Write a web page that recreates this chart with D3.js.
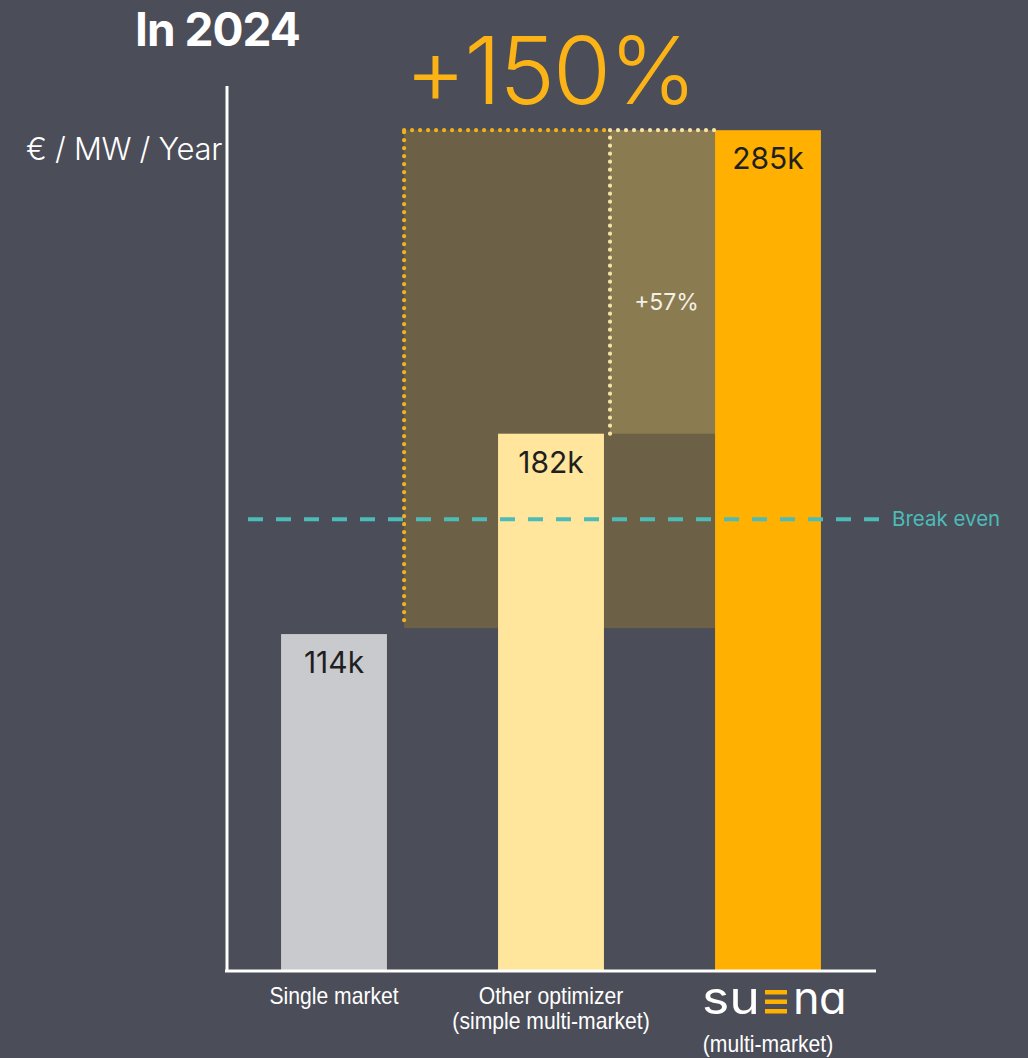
<!DOCTYPE html>
<html>
<head>
<meta charset="utf-8">
<script src="https://cdn.jsdelivr.net/npm/d3@7"></script>
<style>
  html, body { margin: 0; padding: 0; background: #4b4d58; }
  svg { display: block; }
</style>
</head>
<body>
<svg id="chart" width="1028" height="1058"></svg>
<script>
// data
const categories = ['Single market', 'Other optimizer', 'suena'];
const values = [114, 182, 285];
const valueLabels = ['114k', '182k', '285k'];
const categoryLines = [['Single market'], ['Other optimizer', '(simple multi-market)'], ['(multi-market)']];
const breakEven = 153;
const upliftTotal = '+150%';
const upliftOther = '+57%';
const upliftBase = 116; // bottom of the +150% box
const yDomain = [0, 300];

const colors = ['#c9cacd', '#ffe69c', '#ffb000'];

const svg = d3.select('#chart');

// scales
const xScale = d3.scaleBand()
    .domain(categories)
    .range([225.5, 876.5])
    .paddingInner(0.512)
    .paddingOuter(0.256);

const yScale = d3.scaleLinear()
    .domain(yDomain)
    .range([970, 86]);

const bw = xScale.bandwidth();
const step = xScale.step();

// shaded uplift boxes
const boxLeft = xScale('Other optimizer') - step * 0.433;
const boxRight = xScale('suena');
const innerLeft = xScale('Other optimizer') + bw + step * 0.028;

svg.append('rect')
    .attr('x', boxLeft)
    .attr('y', yScale(values[2]))
    .attr('width', boxRight - boxLeft)
    .attr('height', yScale(upliftBase) - yScale(values[2]))
    .attr('fill', '#6c6146');

svg.append('rect')
    .attr('x', innerLeft)
    .attr('y', yScale(values[2]))
    .attr('width', boxRight - innerLeft)
    .attr('height', yScale(values[1]) - yScale(values[2]))
    .attr('fill', '#8a7b50');

// bars
svg.selectAll('.bar')
    .data(categories)
    .enter()
    .append('rect')
        .attr('class', 'bar')
        .attr('x', d => xScale(d))
        .attr('y', (d, i) => yScale(values[i]))
        .attr('width', bw)
        .attr('height', (d, i) => yScale(0) - yScale(values[i]))
        .attr('fill', (d, i) => colors[i]);

// dotted outlines
const dotted = (x1, y1, x2, y2, color) => svg.append('line')
    .attr('x1', x1).attr('y1', y1).attr('x2', x2).attr('y2', y2)
    .attr('stroke', color)
    .attr('stroke-width', 4.2)
    .attr('stroke-linecap', 'round')
    .attr('stroke-dasharray', '0 8');

const topY = yScale(values[2]);
dotted(boxLeft, yScale(upliftBase) - 8, boxLeft, topY, '#f3b21a');
dotted(boxLeft, topY, innerLeft, topY, '#f3b21a');
dotted(innerLeft, topY, boxRight + 3, topY, '#f6e3a4');
dotted(innerLeft, yScale(values[1]), innerLeft, topY, '#f6e3a4');

// break even line
svg.append('line')
    .attr('x1', 248)
    .attr('x2', 880)
    .attr('y1', yScale(breakEven))
    .attr('y2', yScale(breakEven))
    .attr('stroke', '#4cbcb8')
    .attr('stroke-width', 4)
    .attr('stroke-dasharray', '15 13');

svg.append('text')
    .attr('x', 892)
    .attr('y', yScale(breakEven) + 7)
    .attr('fill', '#4cbcb8')
    .style('font-family', 'Inter, sans-serif')
    .style('font-size', '20.5px')
    .text('Break even');

// axes
svg.append('line')
    .attr('x1', 227).attr('x2', 227)
    .attr('y1', yScale(yDomain[1])).attr('y2', yScale(0) + 1)
    .attr('stroke', '#ffffff').attr('stroke-width', 3);

svg.append('line')
    .attr('x1', 225).attr('x2', 876)
    .attr('y1', yScale(0) + 1).attr('y2', yScale(0) + 1)
    .attr('stroke', '#ffffff').attr('stroke-width', 3);

// value labels
svg.selectAll('.val')
    .data(categories)
    .enter()
    .append('text')
        .attr('class', 'val')
        .attr('x', d => xScale(d) + bw / 2)
        .attr('y', (d, i) => yScale(values[i]) + 39)
        .attr('text-anchor', 'middle')
        .attr('fill', '#1f1f22')
        .style('font-family', 'Inter, sans-serif')
        .style('font-size', '30px')
        .text((d, i) => valueLabels[i]);

// uplift texts
svg.append('text')
    .attr('x', (innerLeft + boxRight) / 2 + 4)
    .attr('y', (yScale(values[1]) + topY) / 2 + 28)
    .attr('text-anchor', 'middle')
    .attr('fill', '#f4f0e6')
    .style('font-family', 'Inter, sans-serif')
    .style('font-size', '23px')
    .text(upliftOther);

svg.append('text')
    .attr('x', 550)
    .attr('y', 104)
    .attr('text-anchor', 'middle')
    .attr('fill', '#fcb316')
    .style('font-family', 'Inter, sans-serif')
    .style('font-weight', 300)
    .style('font-size', '94px')
    .style('letter-spacing', '-2px')
    .text(upliftTotal);

// title and unit
svg.append('text')
    .attr('x', 135)
    .attr('y', 46)
    .attr('fill', '#ffffff')
    .style('font-family', 'Inter, sans-serif')
    .style('font-weight', 700)
    .style('font-size', '46px')
    .style('letter-spacing', '-1px')
    .text('In 2024');

svg.append('text')
    .attr('x', 26)
    .attr('y', 160)
    .attr('fill', '#ffffff')
    .style('font-family', 'Inter, sans-serif')
    .style('font-weight', 300)
    .style('font-size', '31px')
    .style('letter-spacing', '-0.3px')
    .text('€ / MW / Year');

// category labels
const labelFont = "'Liberation Sans Narrow', 'Liberation Sans', sans-serif";
categories.forEach((c, i) => {
    const cx = xScale(c) + bw / 2;
    const startY = c === 'suena' ? 1052 : 1004;
    categoryLines[i].forEach((line, j) => {
        svg.append('text')
            .attr('transform', `translate(${cx},${startY + j * 25}) scale(0.92,1)`)
            .attr('text-anchor', 'middle')
            .attr('fill', '#ffffff')
            .style('font-family', labelFont)
            .style('font-size', '23px')
            .text(line);
    });
});

// suena logo
const logo = svg.append('g')
    .attr('transform', `translate(${xScale('suena') + bw / 2},1014)`);
logo.append('text')
    .attr('x', -66)
    .attr('fill', '#ffffff')
    .attr('textLength', 58)
    .attr('lengthAdjust', 'spacingAndGlyphs')
    .style('font-family', 'Inter, sans-serif')
    .style('font-size', '45px')
    .text('su');
logo.selectAll('.bar-e')
    .data([0, 1, 2])
    .enter()
    .append('rect')
        .attr('x', -3)
        .attr('y', d => -24 + d * 9.5)
        .attr('width', 22)
        .attr('height', 4.5)
        .attr('fill', '#ffb000');
logo.append('text')
    .attr('x', 25)
    .attr('fill', '#ffffff')
    .style('font-family', 'Inter, sans-serif')
    .style('font-size', '45px')
    .style('letter-spacing', '-0.5px')
    .text('nɑ');
</script>
</body>
</html>
